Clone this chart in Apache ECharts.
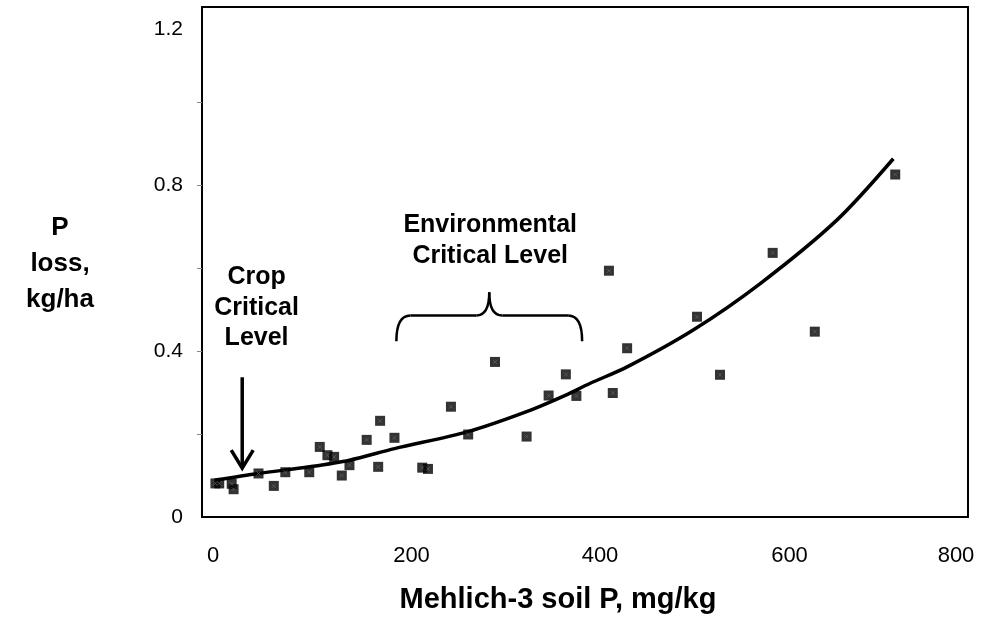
<!DOCTYPE html>
<html><head><meta charset="utf-8">
<script src="https://cdn.jsdelivr.net/npm/echarts@6/dist/echarts.min.js"></script>
<style>html,body{margin:0;padding:0;background:#fff}#c{width:986px;height:620px}</style>
</head><body><div id="c"></div>
<script>
// Observed data (Mehlich-3 soil P, mg/kg vs P loss, kg/ha)
const soilP = [14,18,31,33,59,75,87,112,123,131,138,146,154,172,184,186,201,230,236,260,278,306,339,362,380,391,425,429,444,517,541,596,640,724];
const pLoss = [0.081,0.081,0.080,0.067,0.105,0.075,0.108,0.108,0.169,0.149,0.145,0.100,0.125,0.186,0.121,0.232,0.191,0.119,0.116,0.266,0.199,0.374,0.194,0.293,0.344,0.292,0.594,0.299,0.407,0.483,0.343,0.637,0.447,0.826];
// Trend line
const trendX = [14,59,112,154,201,278,339,380,405,444,513,583,663,722];
const trendY = [0.089,0.105,0.121,0.137,0.165,0.206,0.254,0.294,0.322,0.362,0.451,0.563,0.716,0.864];
// Tick labels
const xTickLabels = [0,200,400,600,800];
const yTickLabels = [0,0.4,0.8,1.2];
const yTickMarks = [0.2,0.4,0.6,0.8,1.0];
// Annotation anchors (data coordinates)
const cropText = 'Crop\nCritical\nLevel';
const envText = 'Environmental\nCritical Level';
const cropAnchor = [57, 0.505];
const envAnchor = [301, 0.667];
const arrowTop = [42, 0.337];
const arrowBottom = [42, 0.118];
const braceLeft = 203, braceRight = 397, braceMid = 300;
const braceFoot = 0.424, braceBar = 0.486, bracePeak = 0.542;

const FONT = '"Liberation Sans", Arial, sans-serif';
const points = soilP.map((x, i) => [x, pLoss[i]]);
const trend = trendX.map((x, i) => [x, trendY[i]]);

const xShift = {0: 'a', 200: 'b', 400: 'c', 600: 'd', 800: 'e'};
const chart = echarts.init(document.getElementById('c'), null, {renderer: 'canvas'});
chart.setOption({
  animation: false,
  backgroundColor: '#fff',
  grid: {left: 202, right: 18, top: 7, bottom: 103, show: true, borderColor: '#000', borderWidth: 2, backgroundColor: 'transparent'},
  xAxis: {
    type: 'value', min: 0, max: 800,
    axisLine: {show: true, lineStyle: {color: '#000', width: 2}},
    axisTick: {show: false},
    splitLine: {show: false},
    axisLabel: {
      customValues: xTickLabels, margin: 28, color: '#000', fontSize: 22, fontFamily: FONT,
      formatter: v => '{' + xShift[v] + '|' + v + '}',
      rich: {
        a: {fontSize: 22, fontFamily: FONT, color: '#000', padding: [0, 0, 0, 22]},
        b: {fontSize: 22, fontFamily: FONT, color: '#000', padding: [0, 0, 0, 36]},
        c: {fontSize: 22, fontFamily: FONT, color: '#000', padding: [0, 0, 0, 30]},
        d: {fontSize: 22, fontFamily: FONT, color: '#000', padding: [0, 0, 0, 26]},
        e: {fontSize: 22, fontFamily: FONT, color: '#000', padding: [0, 24, 0, 0]}
      }
    },
    name: 'Mehlich-3 soil P, mg/kg', nameLocation: 'middle', nameGap: 68,
    nameTextStyle: {fontSize: 29, fontWeight: 'bold', fontFamily: FONT, color: '#000', padding: [0, 54, 0, 0]}
  },
  yAxis: {
    type: 'value', min: 0, max: 1.23,
    axisLine: {show: true, lineStyle: {color: '#000', width: 2}},
    axisTick: {show: true, customValues: yTickMarks, length: 5, lineStyle: {color: '#888', width: 1}},
    splitLine: {show: false},
    axisLabel: {
      customValues: yTickLabels, margin: 19, color: '#000', fontSize: 21, fontFamily: FONT,
      formatter: v => v === 0 ? '0' : (Math.abs(v - 1.2) < 1e-9 ? '{t|1.2}' : v.toFixed(1)),
      rich: {t: {fontSize: 21, fontFamily: FONT, color: '#000', padding: [20, 0, 0, 0]}}
    }
  },
  series: [
    {type: 'line', data: trend, smooth: 0.3, showSymbol: false, silent: true, z: 2,
     lineStyle: {color: '#000', width: 3.5}},
    {type: 'scatter', data: points, symbol: 'rect', symbolSize: 10, silent: true, z: 3,
     itemStyle: {color: '#000', borderColor: '#000', borderWidth: 0}},
    {type: 'scatter', data: points, symbol: 'path://M0,0L10,10M10,0L0,10', symbolSize: 4, silent: true, z: 4,
     itemStyle: {color: 'none', borderColor: '#6a6a6a', borderWidth: 0.8}}
  ]
});

const px = p => chart.convertToPixel({gridIndex: 0}, p);
const cropP = px(cropAnchor), envP = px(envAnchor);
const aT = px(arrowTop), aB = px(arrowBottom);
const xl = px([braceLeft, 0])[0], xr = px([braceRight, 0])[0], xm = px([braceMid, 0])[0];
const yb = px([0, braceFoot])[1], yh = px([0, braceBar])[1], yp = px([0, bracePeak])[1];
const bs = {stroke: '#000', lineWidth: 2.5, fill: null};
chart.setOption({
  graphic: [
    {type: 'text', x: 60, y: 264, style: {text: 'P\nloss,\nkg/ha', align: 'center', verticalAlign: 'middle',
      fontSize: 26, fontWeight: 'bold', fontFamily: FONT, fill: '#000', lineHeight: 36}},
    {type: 'text', x: cropP[0], y: cropP[1], style: {text: cropText, align: 'center', verticalAlign: 'middle',
      fontSize: 25, fontWeight: 'bold', fontFamily: FONT, fill: '#000', lineHeight: 30.5}},
    {type: 'text', x: envP[0], y: envP[1], style: {text: envText, align: 'center', verticalAlign: 'middle',
      fontSize: 25, fontWeight: 'bold', fontFamily: FONT, fill: '#000', lineHeight: 30.5}},
    {type: 'line', shape: {x1: aT[0], y1: aT[1], x2: aB[0], y2: aB[1] - 1}, style: {stroke: '#000', lineWidth: 3.5}},
    {type: 'polyline', shape: {points: [[aB[0] - 11, aB[1] - 18], [aB[0], aB[1]], [aB[0] + 11, aB[1] - 18]]},
      style: {stroke: '#000', lineWidth: 3.5, fill: null}},
    {type: 'bezierCurve', shape: {x1: xl, y1: yb, x2: xl + 14, y2: yh, cpx1: xl, cpy1: yh}, style: bs},
    {type: 'line', shape: {x1: xl + 14, y1: yh, x2: xm - 13, y2: yh}, style: bs},
    {type: 'bezierCurve', shape: {x1: xm - 13, y1: yh, x2: xm, y2: yp, cpx1: xm, cpy1: yh}, style: bs},
    {type: 'bezierCurve', shape: {x1: xm, y1: yp, x2: xm + 13, y2: yh, cpx1: xm, cpy1: yh}, style: bs},
    {type: 'line', shape: {x1: xm + 13, y1: yh, x2: xr - 14, y2: yh}, style: bs},
    {type: 'bezierCurve', shape: {x1: xr - 14, y1: yh, x2: xr, y2: yb, cpx1: xr, cpy1: yh}, style: bs}
  ]
});
</script>
</body></html>
